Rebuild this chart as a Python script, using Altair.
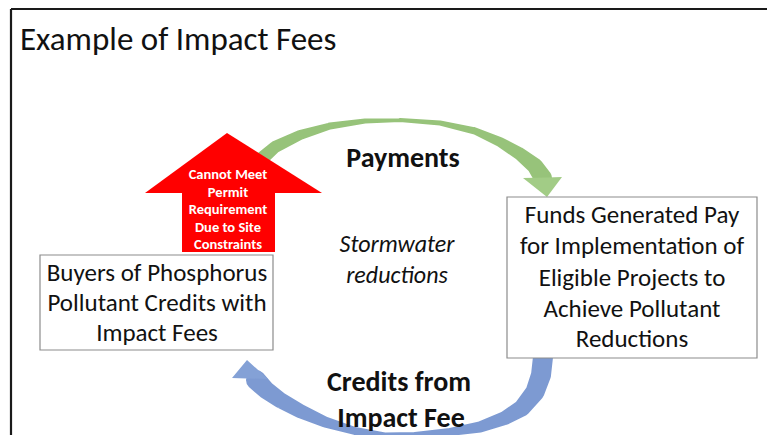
import altair as alt
import pandas as pd

FONT = "Carlito, Lato"

# ---- plot coordinate frame (image pixels) ----
X_DOMAIN = [8, 767]
Y_DOMAIN = [8, 435]

# ---- outer frame lines ----
FRAME_X = [11, 11]
FRAME_X2 = [11, 790]
FRAME_Y = [9, 9]
FRAME_Y2 = [460, 9]

# ---- green curved arrow (Payments) ----
GREEN_X = [258, 275, 300, 330, 365, 400, 440, 475, 500, 520, 535, 543]
GREEN_Y = [162, 147, 135, 126, 121, 120, 123, 131, 142, 154, 166, 178]
GREEN_W = [14, 12, 10, 7, 5, 4, 5, 7, 10, 13, 16, 18]
GREEN_HEAD_X = [523, 547, 562]
GREEN_HEAD_Y = [178, 197, 177]
GREEN_HEAD_Y2 = [178, 177.6, 177]

# ---- blue curved arrow (Credits from Impact Fee) ----
BLUE_X = [543, 541, 535, 522, 505, 480, 450, 415, 385, 355, 325, 300, 280, 266, 256]
BLUE_Y = [357, 375, 392, 408, 418, 427, 432, 435, 435, 431, 422, 411, 400, 390, 380]
BLUE_W = [20, 20, 19, 17, 14, 11, 8, 6, 5, 8, 11, 14, 16, 18, 20]
BLUE_HEAD_X = [232, 247, 268]
BLUE_HEAD_Y = [378, 360, 379]
BLUE_HEAD_Y2 = [378, 378.4, 379]

# ---- red up arrow ----
RED_TRI_X = [145, 227, 322]
RED_TRI_Y = [193, 133, 193]
RED_TRI_Y2 = [193, 193, 193]
RED_RECT_X, RED_RECT_X2 = [182], [275]
RED_RECT_Y, RED_RECT_Y2 = [192], [252]
RED_TEXT = ["Cannot Meet", "Permit", "Requirement", "Due to Site", "Constraints"]
RED_TEXT_Y = [179, 196.5, 214, 231.5, 249]

# ---- boxes ----
BOX_X = [40, 507]
BOX_X2 = [273, 757]
BOX_Y = [255, 197]
BOX_Y2 = [350, 358]

LEFT_TEXT = ["Buyers of Phosphorus", "Pollutant Credits with", "Impact Fees"]
LEFT_TEXT_Y = [281, 311, 341]
RIGHT_TEXT = ["Funds Generated Pay", "for Implementation of", "Eligible Projects to",
              "Achieve Pollutant", "Reductions"]
RIGHT_TEXT_Y = [223, 254, 286, 317, 347]

BOLD_TEXT = ["Payments", "Credits from", "Impact Fee"]
BOLD_X = [403, 399, 401]
BOLD_Y = [167, 391, 427]

ITALIC_TEXT = ["Stormwater", "reductions"]
ITALIC_X = [397, 397]
ITALIC_Y = [252, 283]

TITLE = "Example of Impact Fees"
TITLE_X, TITLE_Y = 20, 50

xs = alt.Scale(domain=X_DOMAIN, nice=False, zero=False)
ys = alt.Scale(domain=Y_DOMAIN, reverse=True, nice=False, zero=False)


def X(f="x"):
    return alt.X(f"{f}:Q", scale=xs, axis=None)


def Y(f="y"):
    return alt.Y(f"{f}:Q", scale=ys, axis=None, stack=None)


frame = alt.Chart(pd.DataFrame({"x": FRAME_X, "x2": FRAME_X2, "y": FRAME_Y, "y2": FRAME_Y2})).mark_rule(
    color="#1a1a1a", strokeWidth=2.2
).encode(x=X(), x2="x2:Q", y=Y(), y2="y2:Q")

green = alt.Chart(pd.DataFrame({"x": GREEN_X, "y": GREEN_Y, "w": GREEN_W, "i": range(len(GREEN_X))})).mark_trail(
    color="#97C37A"
).encode(x=X(), y=Y(), size=alt.Size("w:Q", scale=None, legend=None), order="i:Q")

green_head = alt.Chart(pd.DataFrame({"x": GREEN_HEAD_X, "y": GREEN_HEAD_Y, "y2": GREEN_HEAD_Y2})).mark_area(
    color="#A2CC86", orient="vertical", interpolate="linear"
).encode(x=X(), y=Y(), y2="y2:Q")

blue = alt.Chart(pd.DataFrame({"x": BLUE_X, "y": BLUE_Y, "w": BLUE_W, "i": range(len(BLUE_X))})).mark_trail(
    color="#7D9AD2"
).encode(x=X(), y=Y(), size=alt.Size("w:Q", scale=None, legend=None), order="i:Q")

blue_head = alt.Chart(pd.DataFrame({"x": BLUE_HEAD_X, "y": BLUE_HEAD_Y, "y2": BLUE_HEAD_Y2})).mark_area(
    color="#84A1D6", orient="vertical", interpolate="linear"
).encode(x=X(), y=Y(), y2="y2:Q")

red_tri = alt.Chart(pd.DataFrame({"x": RED_TRI_X, "y": RED_TRI_Y, "y2": RED_TRI_Y2})).mark_area(
    color="#FF0000", orient="vertical", interpolate="linear"
).encode(x=X(), y=Y(), y2="y2:Q")

red_rect = alt.Chart(pd.DataFrame({"x": RED_RECT_X, "x2": RED_RECT_X2, "y": RED_RECT_Y, "y2": RED_RECT_Y2})).mark_rect(
    color="#FF0000"
).encode(x=X(), x2="x2:Q", y=Y(), y2="y2:Q")

red_text = alt.Chart(pd.DataFrame({"t": RED_TEXT, "x": [228] * len(RED_TEXT), "y": RED_TEXT_Y})).mark_text(
    font=FONT, fontSize=14.5, fontWeight="bold", color="white", align="center", baseline="alphabetic"
).encode(x=X(), y=Y(), text="t:N")

boxes = alt.Chart(pd.DataFrame({"x": BOX_X, "x2": BOX_X2, "y": BOX_Y, "y2": BOX_Y2})).mark_rect(
    fill="white", stroke="#8c8c8c", strokeWidth=1.2
).encode(x=X(), x2="x2:Q", y=Y(), y2="y2:Q")

left_text = alt.Chart(pd.DataFrame({"t": LEFT_TEXT, "x": [157] * 3, "y": LEFT_TEXT_Y})).mark_text(
    font=FONT, fontSize=25, color="#111111", align="center", baseline="alphabetic"
).encode(x=X(), y=Y(), text="t:N")

right_text = alt.Chart(pd.DataFrame({"t": RIGHT_TEXT, "x": [632] * 5, "y": RIGHT_TEXT_Y})).mark_text(
    font=FONT, fontSize=25, color="#111111", align="center", baseline="alphabetic"
).encode(x=X(), y=Y(), text="t:N")

bold_text = alt.Chart(pd.DataFrame({"t": BOLD_TEXT, "x": BOLD_X, "y": BOLD_Y})).mark_text(
    font=FONT, fontSize=28, fontWeight="bold", color="#111111", align="center", baseline="alphabetic"
).encode(x=X(), y=Y(), text="t:N")

italic_text = alt.Chart(pd.DataFrame({"t": ITALIC_TEXT, "x": ITALIC_X, "y": ITALIC_Y})).mark_text(
    font=FONT, fontSize=24, fontStyle="italic", color="#111111", align="center", baseline="alphabetic"
).encode(x=X(), y=Y(), text="t:N")

title = alt.Chart(pd.DataFrame({"t": [TITLE], "x": [TITLE_X], "y": [TITLE_Y]})).mark_text(
    font=FONT, fontSize=33, color="#111111", align="left", baseline="alphabetic"
).encode(x=X(), y=Y(), text="t:N")

chart = alt.layer(
    frame, green, green_head, blue, blue_head, red_tri, red_rect, red_text,
    boxes, left_text, right_text, bold_text, italic_text, title
).properties(
    width=759, height=427, padding=0, background="white",
    autosize=alt.AutoSizeParams(type="none"),
).configure_view(stroke=None)

chart.save("out.html", embed_options={"renderer": "svg", "actions": False})
